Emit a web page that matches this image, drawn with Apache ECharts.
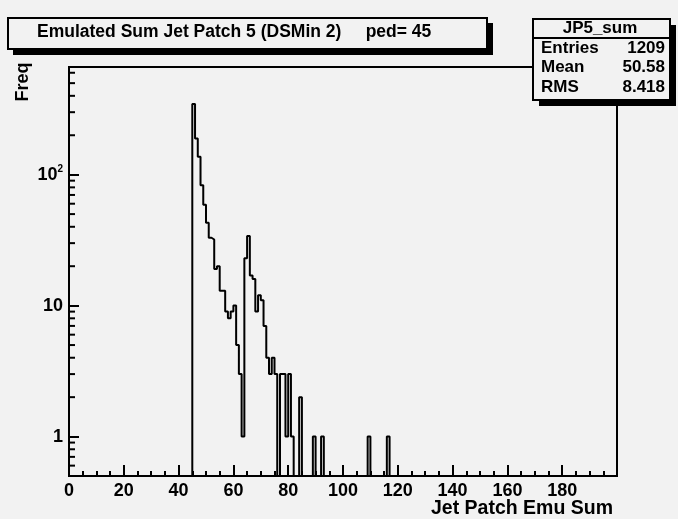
<!DOCTYPE html>
<html>
<head>
<meta charset="utf-8">
<script src="https://cdn.jsdelivr.net/npm/echarts@6/dist/echarts.min.js"></script>
<style>
html, body { margin: 0; padding: 0; background: #f2f2f2; }
#main { width: 678px; height: 519px; }
</style>
</head>
<body>
<div id="main"></div>
<script>
// histogram JP5_sum, 1 unit bins starting at the pedestal
var binStart = 45;
var binWidth = 1;
var counts = [
    347, 189, 137, 83, 59, 43, 33, 32, 19, 20,   // 45-54
    13, 13, 9, 8, 9, 10, 5, 3, 1, 23,            // 55-64
    34, 17, 16, 9, 12, 11, 7, 4, 3, 4,           // 65-74
    3, 0, 3, 3, 1, 3, 1, 0, 0, 2,                // 75-84
    0, 0, 0, 0, 1, 0, 0, 1, 0, 0,                // 85-94
    0, 0, 0, 0, 0, 0, 0, 0, 0, 0,                // 95-104
    0, 0, 0, 0, 1, 0, 0, 0, 0, 0,                // 105-114
    0, 1                                         // 115-116
];
var xTickLabels = [0, 20, 40, 60, 80, 100, 120, 140, 160, 180];
var yMinorTicks = [0.5, 0.6, 0.7, 0.8, 0.9, 2, 3, 4, 5, 6, 7, 8, 9,
    20, 30, 40, 50, 60, 70, 80, 90, 200, 300, 400, 500, 600];
var statNames = ['Entries', 'Mean', 'RMS'];
var statValues = ['1209', '50.58', '8.418'];

var FONT = '"Liberation Sans", Arial, Helvetica, sans-serif';
var LOG_FLOOR = 0.01; // empty bins go below the axis and get clipped

/* outline points for a step line */
var histPoints = [[binStart, LOG_FLOOR]];
counts.forEach(function (c, i) {
    histPoints.push([binStart + i * binWidth, c > 0 ? c : LOG_FLOOR]);
});
histPoints.push([binStart + counts.length * binWidth, LOG_FLOOR]);

var chart = echarts.init(document.getElementById('main'));

var statsGraphics = [];
statNames.forEach(function (name, i) {
    statsGraphics.push({
        type: 'text', x: 541, y: 48 + i * 19.5, z: 103,
        style: { text: name, font: 'bold 17px ' + FONT, fill: '#000', align: 'left', verticalAlign: 'middle' }
    });
    statsGraphics.push({
        type: 'text', x: 665, y: 48 + i * 19.5, z: 103,
        style: { text: statValues[i], font: 'bold 17px ' + FONT, fill: '#000', align: 'right', verticalAlign: 'middle' }
    });
});

var option = {
    backgroundColor: '#f2f2f2',
    animation: false,
    grid: {
        left: 69, top: 67, right: 61, bottom: 43,
        outerBoundsMode: 'none', containLabel: false,
        show: true, borderColor: '#000', borderWidth: 2, backgroundColor: 'transparent'
    },
    xAxis: {
        type: 'value', min: 0, max: 200, interval: 20,
        axisLine: { lineStyle: { color: '#000', width: 2 } },
        axisTick: { inside: true, length: 11, lineStyle: { color: '#000', width: 2 } },
        minorTick: { show: true, splitNumber: 4, length: 5, lineStyle: { color: '#000', width: 2 } },
        splitLine: { show: false },
        axisLabel: {
            margin: 6, color: '#000', fontFamily: FONT, fontWeight: 'bold', fontSize: 18,
            formatter: function (v) { return xTickLabels.indexOf(v) >= 0 ? String(v) : ''; }
        }
    },
    yAxis: {
        type: 'log', logBase: 10, min: 0.5, max: 664,
        axisLine: { lineStyle: { color: '#000', width: 2 } },
        axisTick: { inside: true, length: 10, lineStyle: { color: '#000', width: 2 } },
        splitLine: { show: false },
        axisLabel: {
            margin: 6, color: '#000', fontFamily: FONT, fontWeight: 'bold', fontSize: 18,
            showMinLabel: false, showMaxLabel: false,
            formatter: function (v) {
                if (Math.abs(v - 1) < 1e-6) return '1';
                if (Math.abs(v - 10) < 1e-6) return '10';
                if (Math.abs(v - 100) < 1e-6) return '10{sup|2}';
                return '';
            },
            rich: {
                sup: { fontFamily: FONT, fontWeight: 'bold', fontSize: 10, verticalAlign: 'top', padding: [0, 0, 10, 0], color: '#000' }
            }
        }
    },
    graphic: [
        // title box with shadow
        { type: 'rect', z: 100, shape: { x: 13, y: 23, width: 480, height: 32 }, style: { fill: '#000' } },
        { type: 'rect', z: 101, shape: { x: 8, y: 18, width: 479, height: 31 }, style: { fill: '#f2f2f2', stroke: '#000', lineWidth: 2 } },
        {
            type: 'text', x: 37, y: 32, z: 102,
            style: {
                text: 'Emulated Sum Jet Patch 5 (DSMin 2)     ped= 45',
                font: 'bold 17.5px ' + FONT, fill: '#000', align: 'left', verticalAlign: 'middle'
            }
        },
        // stats box with shadow
        { type: 'rect', z: 100, shape: { x: 539, y: 25, width: 137, height: 81 }, style: { fill: '#000' } },
        { type: 'rect', z: 101, shape: { x: 533, y: 19, width: 137, height: 81 }, style: { fill: '#f2f2f2', stroke: '#000', lineWidth: 2 } },
        { type: 'line', z: 102, shape: { x1: 533, y1: 38, x2: 670, y2: 38 }, style: { stroke: '#000', lineWidth: 2 } },
        {
            type: 'text', x: 600, y: 28, z: 103,
            style: { text: 'JP5_sum', font: 'bold 17px ' + FONT, fill: '#000', align: 'center', verticalAlign: 'middle' }
        },
        // axis titles
        {
            type: 'text', x: 23, y: 82, rotation: Math.PI / 2, z: 103,
            style: { text: 'Freq', font: 'bold 18px ' + FONT, fill: '#000', align: 'center', verticalAlign: 'middle' }
        },
        {
            type: 'text', x: 613, y: 509, z: 103,
            style: { text: 'Jet Patch Emu Sum', font: 'bold 19.5px ' + FONT, fill: '#000', align: 'right', verticalAlign: 'middle' }
        }
    ].concat(statsGraphics),
    series: [
        {
            type: 'line', step: 'end', data: histPoints, symbol: 'none', clip: true,
            lineStyle: { color: '#000', width: 2 }
        },
        {
            // minor log ticks on the y axis
            type: 'custom', silent: true, clip: true,
            data: yMinorTicks.map(function (v) { return [0, v]; }),
            renderItem: function (params, api) {
                var p = api.coord([0, api.value(1)]);
                return {
                    type: 'line',
                    shape: { x1: p[0], y1: p[1], x2: p[0] + 6, y2: p[1] },
                    style: { stroke: '#000', lineWidth: 2 }
                };
            }
        }
    ]
};
chart.setOption(option);
</script>
</body>
</html>
